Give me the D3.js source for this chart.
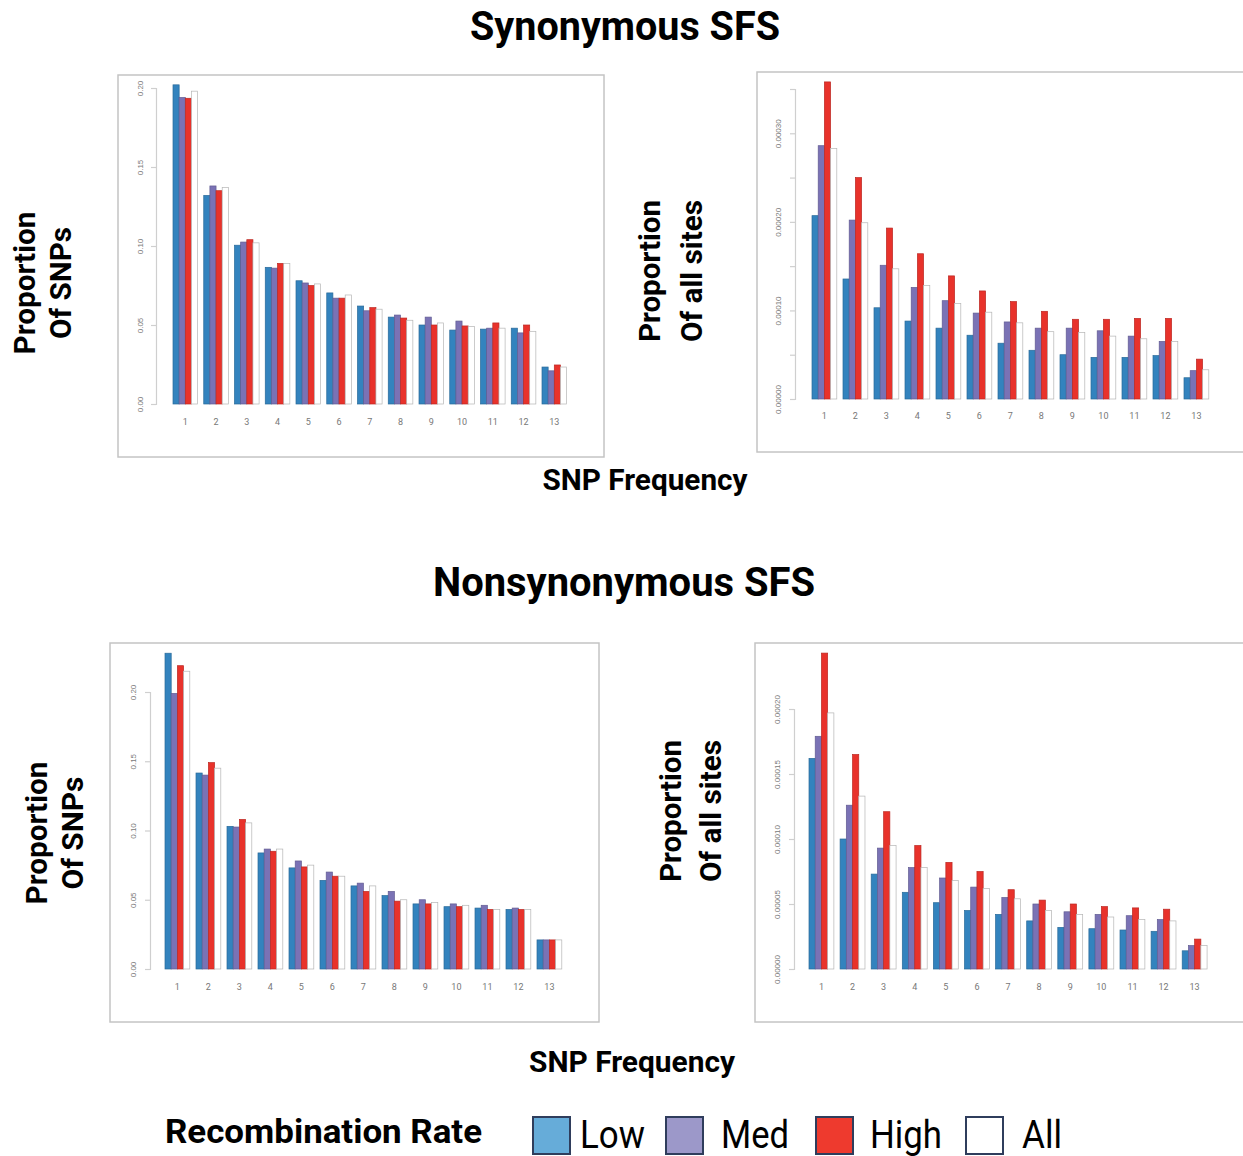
<!DOCTYPE html>
<html>
<head>
<meta charset="utf-8">
<script src="https://cdn.jsdelivr.net/npm/d3@7"></script>
<style>
  body { margin: 0; background: #fff; }
  svg { display: block; font-family: Roboto, "Liberation Sans", sans-serif; }
  .tick text { fill: #777; }
</style>
</head>
<body>
<svg id="chart" width="1243" height="1156"></svg>
<script>
// SNP frequency classes (x categories)
const freqs = [1, 2, 3, 4, 5, 6, 7, 8, 9, 10, 11, 12, 13];
const seriesNames = ["Low", "Med", "High", "All"];

// Synonymous SFS, proportion of SNPs
const synSnpLow  = [0.202, 0.132, 0.1005, 0.0865, 0.078, 0.0703, 0.062, 0.055, 0.050, 0.0468, 0.0474, 0.048, 0.0234];
const synSnpMed  = [0.194, 0.138, 0.1025, 0.086, 0.0766, 0.067, 0.059, 0.0563, 0.055, 0.0525, 0.048, 0.045, 0.021];
const synSnpHigh = [0.1935, 0.135, 0.104, 0.089, 0.075, 0.067, 0.061, 0.0544, 0.050, 0.0494, 0.0513, 0.050, 0.0247];
const synSnpAll  = [0.198, 0.137, 0.102, 0.089, 0.076, 0.069, 0.060, 0.053, 0.0513, 0.049, 0.048, 0.046, 0.0234];

// Synonymous SFS, proportion of all sites
const synSiteLow  = [2.07e-4, 1.355e-4, 1.03e-4, 8.8e-5, 8.0e-5, 7.2e-5, 6.3e-5, 5.5e-5, 5.0e-5, 4.7e-5, 4.7e-5, 4.9e-5, 2.4e-5];
const synSiteMed  = [2.86e-4, 2.02e-4, 1.51e-4, 1.26e-4, 1.11e-4, 9.7e-5, 8.7e-5, 8.0e-5, 8.0e-5, 7.7e-5, 7.1e-5, 6.5e-5, 3.2e-5];
const synSiteHigh = [3.58e-4, 2.5e-4, 1.93e-4, 1.64e-4, 1.39e-4, 1.22e-4, 1.1e-4, 9.9e-5, 9.0e-5, 9.0e-5, 9.1e-5, 9.1e-5, 4.5e-5];
const synSiteAll  = [2.83e-4, 1.99e-4, 1.47e-4, 1.28e-4, 1.08e-4, 9.8e-5, 8.6e-5, 7.6e-5, 7.5e-5, 7.1e-5, 6.8e-5, 6.5e-5, 3.3e-5];

// Nonsynonymous SFS, proportion of SNPs
const nonSnpLow  = [0.228, 0.1415, 0.103, 0.0838, 0.073, 0.064, 0.060, 0.053, 0.047, 0.045, 0.044, 0.043, 0.021];
const nonSnpMed  = [0.199, 0.140, 0.1025, 0.0866, 0.078, 0.070, 0.062, 0.056, 0.050, 0.047, 0.046, 0.044, 0.021];
const nonSnpHigh = [0.219, 0.149, 0.108, 0.085, 0.0737, 0.067, 0.056, 0.049, 0.047, 0.045, 0.043, 0.043, 0.021];
const nonSnpAll  = [0.215, 0.145, 0.1055, 0.0866, 0.075, 0.067, 0.060, 0.050, 0.048, 0.046, 0.043, 0.043, 0.021];

// Nonsynonymous SFS, proportion of all sites
const nonSiteLow  = [1.62e-4, 1.0e-4, 7.3e-5, 5.9e-5, 5.1e-5, 4.5e-5, 4.2e-5, 3.7e-5, 3.2e-5, 3.1e-5, 3.0e-5, 2.9e-5, 1.4e-5];
const nonSiteMed  = [1.79e-4, 1.26e-4, 9.3e-5, 7.8e-5, 7.0e-5, 6.3e-5, 5.5e-5, 5.0e-5, 4.4e-5, 4.2e-5, 4.1e-5, 3.8e-5, 1.8e-5];
const nonSiteHigh = [2.43e-4, 1.65e-4, 1.21e-4, 9.5e-5, 8.2e-5, 7.5e-5, 6.1e-5, 5.3e-5, 5.0e-5, 4.8e-5, 4.7e-5, 4.6e-5, 2.3e-5];
const nonSiteAll  = [1.97e-4, 1.33e-4, 9.5e-5, 7.8e-5, 6.8e-5, 6.2e-5, 5.4e-5, 4.5e-5, 4.2e-5, 4.0e-5, 3.8e-5, 3.7e-5, 1.8e-5];

// y axis ticks
const snpTicks  = [0, 0.05, 0.10, 0.15, 0.20];
const synSiteTicks = [0, 5e-5, 1e-4, 1.5e-4, 2e-4, 2.5e-4, 3e-4, 3.5e-4];
const nonSiteTicks = [0, 5e-5, 1e-4, 1.5e-4, 2e-4];

const barColors = ["#3383be", "#7a72b5", "#e8322b", "#ffffff"];
const legendColors = ["#66acd9", "#9c98c9", "#ee3a2e", "#ffffff"];

const svg = d3.select("#chart");

function drawPanel(cfg) {
  // panel frame
  svg.append("rect")
    .attr("x", cfg.box[0]).attr("y", cfg.box[1])
    .attr("width", cfg.box[2]).attr("height", cfg.box[3])
    .attr("fill", "none").attr("stroke", "#c4c4c4").attr("stroke-width", 1.5);

  var xGroup = d3.scaleBand()
    .domain(freqs)
    .range([cfg.x0, cfg.x0 + 13 * cfg.step - cfg.step * 0.2])
    .paddingInner(0.2).paddingOuter(0);
  var xSeries = d3.scaleBand()
    .domain(seriesNames)
    .range([0, xGroup.bandwidth()]);
  var yScale = d3.scaleLinear().domain(cfg.yDomain).range(cfg.yRange);

  var rows = freqs.map(function (f, i) {
    return { freq: f, values: cfg.series.map(function (s, j) { return { name: seriesNames[j], v: s[i], c: barColors[j] }; }) };
  });

  var groups = svg.append("g").selectAll("g")
    .data(rows)
    .join("g")
    .attr("transform", (d) => "translate(" + xGroup(d.freq) + ",0)");

  groups.selectAll("rect")
    .data((d) => d.values)
    .join("rect")
    .attr("x", (d) => xSeries(d.name))
    .attr("y", (d) => yScale(d.v))
    .attr("width", xSeries.bandwidth())
    .attr("height", (d) => yScale(0) - yScale(d.v))
    .attr("fill", (d) => d.c)
    .attr("stroke", (d) => d.name === "All" ? "#b5b5b5" : d3.color(d.c).darker(0.6))
    .attr("stroke-width", 0.7);

  // y axis, R style: labels rotated and parallel to the axis
  var yAxis = d3.axisLeft(yScale)
    .tickValues(cfg.ticks)
    .tickSize(5)
    .tickFormat(cfg.fmt);
  var yG = svg.append("g")
    .attr("transform", "translate(" + cfg.axisX + ",0)")
    .call(yAxis);
  yG.select(".domain").attr("stroke", "#cfcfcf").attr("stroke-width", 1.2);
  yG.selectAll(".tick line").attr("stroke", "#cfcfcf").attr("stroke-width", 1.2);
  yG.selectAll(".tick text")
    .attr("x", null).attr("dy", null)
    .attr("transform", "translate(" + (-cfg.labelOff) + ",0) rotate(-90)")
    .attr("text-anchor", "middle")
    .style("font-size", "8px");

  // x labels
  svg.append("g").selectAll("text")
    .data(freqs)
    .join("text")
    .attr("x", (d) => xGroup(d) + xGroup.bandwidth() / 2)
    .attr("y", cfg.xLabelY)
    .attr("text-anchor", "middle")
    .attr("fill", "#777")
    .style("font-size", "9px")
    .text((d) => d);

  // y title, two lines rotated
  cfg.yTitle.forEach(function (t) {
    svg.append("text")
      .attr("transform", "translate(" + t.x + "," + cfg.titleCY + ") rotate(-90)")
      .attr("text-anchor", "middle")
      .attr("font-weight", "bold")
      .attr("textLength", t.len)
      .attr("lengthAdjust", "spacingAndGlyphs")
      .style("font-size", "29px")
      .text(t.text);
  });
}

var fmtSnp = d3.format(".2f");
var fmtSite = (d) => d3.format(".5f")(d);

drawPanel({
  box: [118, 75, 486, 382], x0: 173, step: 30.75,
  yDomain: [0, 0.2], yRange: [404, 88], axisX: 156, labelOff: 13,
  ticks: snpTicks, fmt: fmtSnp, xLabelY: 425,
  series: [synSnpLow, synSnpMed, synSnpHigh, synSnpAll],
  titleCY: 283,
  yTitle: [{ text: "Proportion", x: 35, len: 143 }, { text: "Of SNPs", x: 71, len: 112 }]
});

drawPanel({
  box: [757, 72, 490, 380], x0: 812, step: 31,
  yDomain: [0, 3.5e-4], yRange: [399, 89], axisX: 795, labelOff: 14,
  ticks: synSiteTicks, fmt: (d) => (Math.round(d * 1e5) % 10 === 0 ? fmtSite(d) : ""), xLabelY: 419,
  series: [synSiteLow, synSiteMed, synSiteHigh, synSiteAll],
  titleCY: 271,
  yTitle: [{ text: "Proportion", x: 660, len: 142 }, { text: "Of all sites", x: 702, len: 142 }]
});

drawPanel({
  box: [110, 643, 489, 379], x0: 165, step: 31,
  yDomain: [0, 0.2], yRange: [969, 692], axisX: 150, labelOff: 14,
  ticks: snpTicks, fmt: fmtSnp, xLabelY: 990,
  series: [nonSnpLow, nonSnpMed, nonSnpHigh, nonSnpAll],
  titleCY: 833,
  yTitle: [{ text: "Proportion", x: 47, len: 143 }, { text: "Of SNPs", x: 83, len: 113 }]
});

drawPanel({
  box: [755, 643, 490, 379], x0: 809, step: 31.1,
  yDomain: [0, 2e-4], yRange: [969, 709], axisX: 794, labelOff: 14,
  ticks: nonSiteTicks, fmt: fmtSite, xLabelY: 990,
  series: [nonSiteLow, nonSiteMed, nonSiteHigh, nonSiteAll],
  titleCY: 811,
  yTitle: [{ text: "Proportion", x: 681, len: 142 }, { text: "Of all sites", x: 721, len: 142 }]
});

// section titles
function title(txt, x, y, size, len) {
  svg.append("text")
    .attr("x", x).attr("y", y)
    .attr("text-anchor", "middle")
    .attr("font-weight", "bold")
    .attr("textLength", len)
    .attr("lengthAdjust", "spacingAndGlyphs")
    .style("font-size", size + "px")
    .text(txt);
}
title("Synonymous SFS", 625, 40, 40, 310);
title("SNP Frequency", 645, 490, 30, 205);
title("Nonsynonymous SFS", 624, 596, 40, 382);
title("SNP Frequency", 632, 1072, 30, 206);

// legend
svg.append("text")
  .attr("x", 165).attr("y", 1143)
  .attr("font-weight", "bold")
  .attr("textLength", 317)
  .attr("lengthAdjust", "spacingAndGlyphs")
  .style("font-size", "34px")
  .text("Recombination Rate");

const legendBoxX = [533, 666, 816, 966];
const legendTextX = [580, 721, 870, 1022];
const legendTextLen = [65, 68, 72, 40];
var leg = svg.append("g").selectAll("g")
  .data(seriesNames)
  .join("g");
leg.append("rect")
  .attr("x", (d, i) => legendBoxX[i]).attr("y", 1117)
  .attr("width", 37).attr("height", 37)
  .attr("fill", (d, i) => legendColors[i])
  .attr("stroke", "#2f3d5c").attr("stroke-width", 2);
leg.append("text")
  .attr("x", (d, i) => legendTextX[i]).attr("y", 1148)
  .attr("textLength", (d, i) => legendTextLen[i])
  .attr("lengthAdjust", "spacingAndGlyphs")
  .style("font-size", "38px")
  .text((d) => d);
</script>
</body>
</html>
